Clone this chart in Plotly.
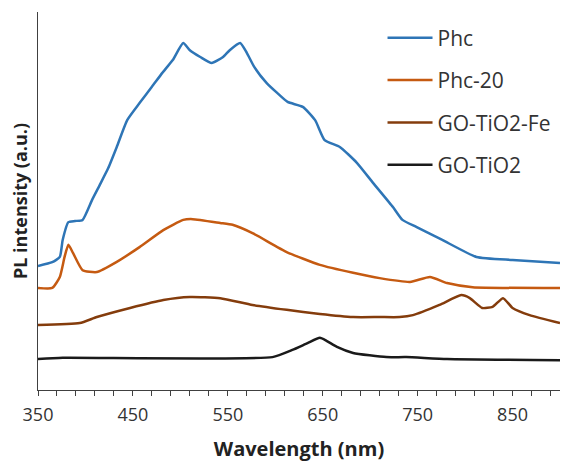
import plotly.graph_objects as go

# Wavelength (nm) and PL intensity (a.u.)
phc_x = [350, 365, 373, 376, 382, 389, 397, 407, 415, 424, 433, 444, 457, 470, 481, 492, 503,
         510, 521, 533, 545, 552, 563, 570, 578, 591, 602, 613, 629, 642, 652, 668, 686,
         703, 724, 734, 749, 776, 812, 850, 900]
phc_y = [32.8, 33.8, 35.2, 39.7, 44.4, 44.7, 45.0, 50.3, 54.2, 58.7, 64.3, 71.4, 75.9, 80.2, 83.9, 87.3, 91.8,
         89.9, 88.1, 86.5, 88.1, 89.9, 91.8, 89.2, 85.4, 81.2, 78.6, 76.2, 74.9, 71.4, 66.1, 64.3, 60.1,
         54.8, 48.4, 45.0, 43.1, 39.7, 35.2, 34.4, 33.6]

phc20_x = [350, 365, 373, 378, 382, 387, 397, 412, 433, 457, 482, 503, 513, 542, 555, 576,
           612, 647, 682, 710, 742, 763, 781, 808, 900]
phc20_y = [27.0, 27.0, 29.9, 35.2, 38.4, 36.2, 31.7, 31.2, 33.9, 37.8, 42.3, 45.0, 45.2, 44.2, 43.7, 41.5,
           36.5, 33.1, 31.0, 29.6, 28.6, 29.9, 28.3, 27.2, 27.0]

fe_x = [350, 394, 412, 447, 482, 510, 542, 576, 612, 647, 682, 710, 731, 745, 773, 796,
        805, 818, 829, 840, 850, 868, 900]
fe_y = [17.2, 17.7, 19.3, 21.7, 23.8, 24.6, 24.3, 22.5, 21.2, 20.1, 19.3, 19.3, 19.3, 19.8, 22.5, 25.1,
        24.3, 21.7, 22.0, 24.3, 21.7, 19.8, 17.7]

go_x = [350, 376, 597, 618, 634, 647, 654, 665, 682, 717, 738, 781, 900]
go_y = [8.2, 8.5, 8.7, 10.6, 12.4, 13.8, 13.0, 11.4, 9.8, 8.7, 8.7, 8.2, 7.9]

series_names = ["Phc", "Phc-20", "GO-TiO2-Fe", "GO-TiO2"]
series_colors = ["#2E75B6", "#C55A11", "#843C0C", "#1a1a1a"]
series_x = [phc_x, phc20_x, fe_x, go_x]
series_y = [phc_y, phc20_y, fe_y, go_y]

tick_vals = [350, 450, 550, 650, 750, 850]

fig = go.Figure()
for i, (n, c, xs, ys) in enumerate(zip(series_names, series_colors, series_x, series_y)):
    fig.add_trace(go.Scatter(x=xs, y=ys, mode="lines", name=n, legendgroup=f"g{i}",
                             line=dict(color=c, width=2.5, shape="spline", smoothing=0.5)))

fig.update_layout(
    width=566, height=465,
    margin=dict(l=38, r=6, t=12, b=75),
    paper_bgcolor="white", plot_bgcolor="white",
    font=dict(family="Open Sans", size=18, color="#333333"),
    showlegend=True,
    legend=dict(x=0.66, y=0.985, xanchor="left", yanchor="top", itemwidth=45,
                font=dict(size=21, color="#333333"), tracegroupgap=12,
                bgcolor="rgba(0,0,0,0)"),
    xaxis=dict(range=[350, 900], showline=True, linecolor="#404040", linewidth=1,
               showgrid=False, zeroline=False, tickvals=tick_vals,
               ticks="outside", ticklen=5, tickcolor="#404040", ticklabelstandoff=3,
               minor=dict(ticks="outside", ticklen=5, tickcolor="#404040", dtick=20, tick0=350),
               title=dict(text="<b>Wavelength (nm)</b>", font=dict(size=20, color="#222222"), standoff=17)),
    yaxis=dict(range=[0, 100], showline=True, linecolor="#404040", linewidth=1,
               showgrid=False, zeroline=False, showticklabels=False, ticks="",
               title=dict(text="<b>PL intensity (a.u.)</b>", font=dict(size=18, color="#222222"), standoff=4)),
)

fig.write_html("out.html")
